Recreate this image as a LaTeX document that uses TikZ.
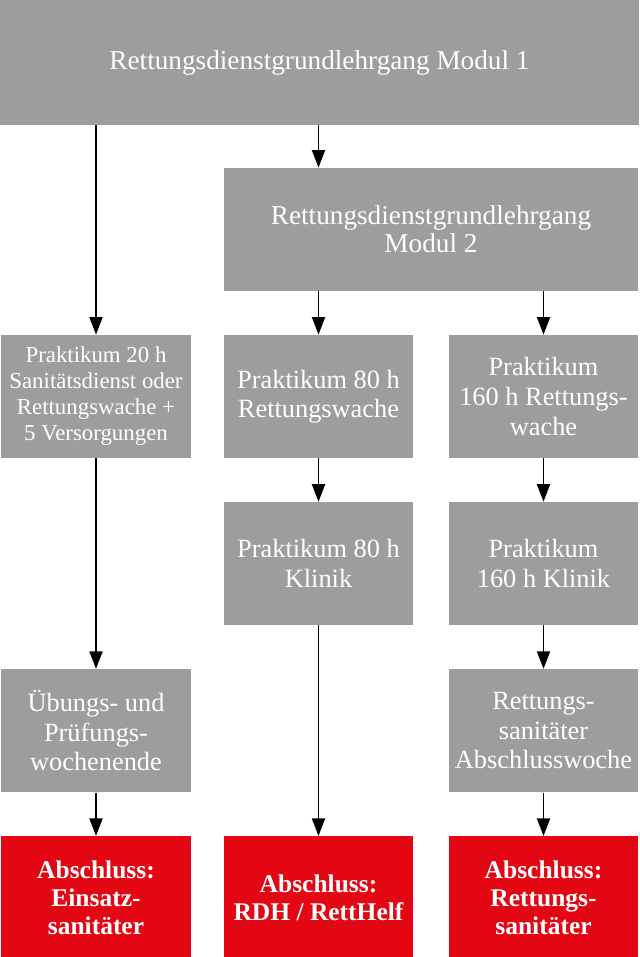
\documentclass[tikz,border=0pt]{standalone}
\usepackage{fontspec}
\setmainfont{Liberation Serif}
\usepackage{tikz}
\definecolor{boxgray}{RGB}{157, 157, 156}
\definecolor{abschlussred}{RGB}{227, 6, 19}
\usetikzlibrary{arrows.meta, positioning}

\begin{document}
\begin{tikzpicture}[
        node distance=0.868cm,
        every node/.style={font=\fontsize{15}{16.8}\selectfont},
        box/.style={rectangle, minimum width=3.78cm, minimum height=2.46cm, inner sep=2pt, align=center, text=white, fill=boxgray},
        smallbox/.style={box, font=\fontsize{13}{14.8}\selectfont},
        modulbox/.style={box, font=\fontsize{15.5}{16}\selectfont},
        endbox/.style={box, fill=abschlussred, font=\fontsize{14.5}{16}\selectfont\bfseries},
        arrow/.style={line width=1.1pt, -{Triangle[length=10pt, width=7.4pt]}, color=black}
    ]
        \useasboundingbox (0,0) rectangle (12.78,-19.14);

        % Modul 1
        \node[modulbox, minimum width=12.78cm, minimum height=2.5cm] (modul1) at (6.39,-1.25) {Rettungsdienstgrundlehrgang Modul 1};

        % Modul 2
        \node[modulbox, minimum width=8.28cm] (modul2) at (8.62,-4.59) {Rettungsdienstgrundlehrgang\\Modul 2};

        % Praktika
        \node[smallbox] (praktA) at (1.92,-7.93) {Praktikum 20 h\\Sanitätsdienst oder\\Rettungswache +\\5 Versorgungen};
        \node[box] (praktB) at (6.37,-7.93) {Praktikum 80 h\\Rettungswache};
        \node[box] (praktC) at (10.87,-7.93) {Praktikum\\160 h Rettungs-\\wache};

        \node[box, below=of praktB] (klinikB) {Praktikum 80 h\\Klinik};
        \node[box, below=of praktC] (klinikC) {Praktikum\\160 h Klinik};

        % Abschlusswochen
        \node[box, below=of klinikC] (woche) {Rettungs-\\sanitäter\\Abschlusswoche};
        \node[box] (uebung) at (praktA |- woche) {Übungs- und\\Prüfungs-\\wochenende};

        % Abschluesse
        \node[endbox, below=of uebung] (esan) {Abschluss:\\Einsatz-\\sanitäter};
        \node[endbox, below=of woche] (rsan) {Abschluss:\\Rettungs-\\sanitäter};
        \node[endbox] (rdh) at (praktB |- rsan) {Abschluss:\\RDH / RettHelf};

        % Arrows
        \draw[arrow] (modul1.south -| praktA) -- (praktA);
        \draw[arrow] (modul1.south -| praktB) -- (modul2.north -| praktB);
        \draw[arrow] (modul2.south -| praktB) -- (praktB);
        \draw[arrow] (modul2.south -| praktC) -- (praktC);
        \draw[arrow] (praktA) -- (uebung);
        \draw[arrow] (uebung) -- (esan);
        \draw[arrow] (praktB) -- (klinikB);
        \draw[arrow] (klinikB) -- (rdh);
        \draw[arrow] (praktC) -- (klinikC);
        \draw[arrow] (klinikC) -- (woche);
        \draw[arrow] (woche) -- (rsan);

    \end{tikzpicture}
\end{document}
